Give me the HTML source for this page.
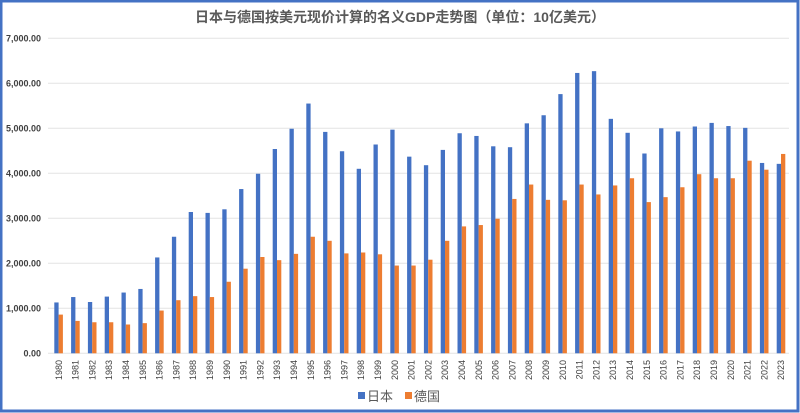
<!DOCTYPE html>
<html><head><meta charset="utf-8"><style>
html,body{margin:0;padding:0;background:#fff;}
svg{display:block;}
</style></head><body>
<svg width="800" height="413" xmlns="http://www.w3.org/2000/svg" font-family="Liberation Sans, Noto Sans CJK SC, sans-serif">
<rect x="0" y="0" width="800" height="413" fill="#fff"/>
<rect x="1" y="1" width="797" height="410" fill="none" stroke="#4472c4" stroke-width="3"/>
<text x="400" y="22" text-anchor="middle" font-size="14" font-weight="bold" fill="#595959" font-family="Liberation Sans, Noto Sans CJK SC, sans-serif">日本与德国按美元现价计算的名义GDP走势图（单位：10亿美元）</text>
<g id="grid" stroke="#e3e3e3" stroke-width="1"></g>
<g id="ylab" font-size="9" fill="#404040" font-weight="bold" text-anchor="end"></g>
<g id="bars"></g>
<g id="xlab" font-size="9" fill="#404040"></g>
<rect x="358" y="392" width="7" height="7" fill="#4472c4"/>
<text x="367" y="401" font-size="13" fill="#595959" font-family="Noto Sans CJK SC, sans-serif">日本</text>
<rect x="405" y="392" width="7" height="7" fill="#ed7d31"/>
<text x="414" y="401" font-size="13" fill="#595959" font-family="Noto Sans CJK SC, sans-serif">德国</text>
</svg>
<script>
var jp=[1130,1250,1140,1260,1350,1430,2130,2590,3140,3120,3200,3650,3990,4540,4990,5550,4920,4490,4100,4640,4970,4370,4180,4520,4890,4830,4600,4580,5110,5290,5760,6230,6270,5210,4900,4440,5000,4930,5040,5120,5050,5010,4230,4210];
var de=[860,720,690,690,640,670,950,1180,1270,1250,1590,1880,2140,2070,2210,2590,2500,2220,2240,2200,1950,1950,2080,2500,2820,2850,2990,3430,3750,3410,3400,3750,3530,3730,3890,3360,3470,3690,3980,3890,3890,4280,4080,4430];
var NS="http://www.w3.org/2000/svg";
function el(t,a,p){var e=document.createElementNS(NS,t);for(var k in a)e.setAttribute(k,a[k]);p.appendChild(e);return e;}
var g=document.getElementById('grid'),yl=document.getElementById('ylab'),b=document.getElementById('bars'),xl=document.getElementById('xlab');
var y0=353.3,s=0.045;
for(var i=0;i<=7;i++){var y=y0-i*1000*s;
 el('line',{x1:48,x2:789,y1:y,y2:y},g);
 var t=el('text',{x:41,y:y+3},yl);t.textContent=(i==0?'0.00':i+',000.00');}
for(var i=0;i<44;i++){var c=58.6+i*16.8;
 el('rect',{x:c-4.3,y:y0-jp[i]*s,width:4.3,height:jp[i]*s,fill:'#4472c4'},b);
 el('rect',{x:c,y:y0-de[i]*s,width:4.3,height:de[i]*s,fill:'#ed7d31'},b);
 var t=el('text',{x:0,y:0,transform:'translate('+(c+3.2)+',360) rotate(-90)','text-anchor':'end'},xl);t.textContent=1980+i;}
</script>
</body></html>
